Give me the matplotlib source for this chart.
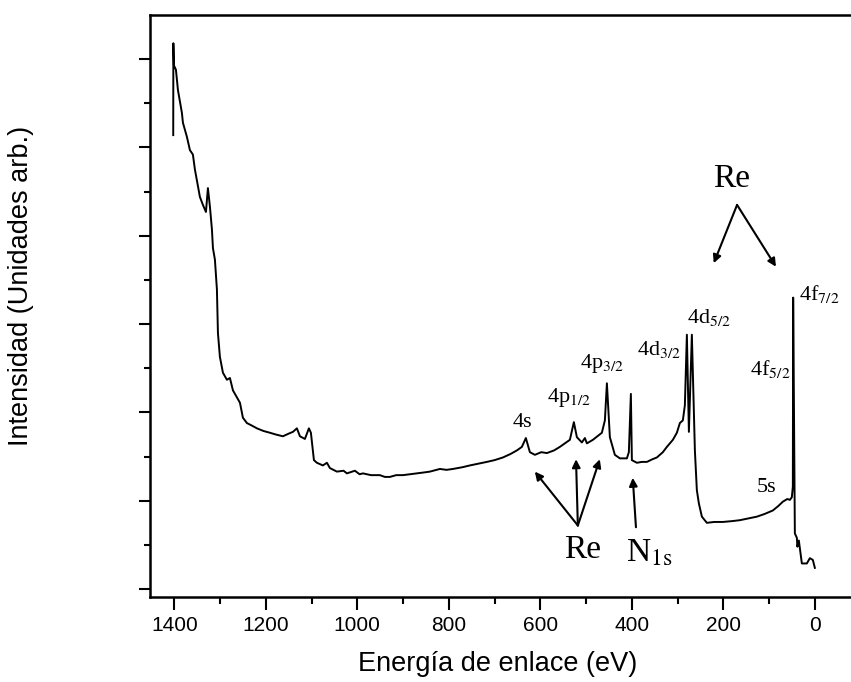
import matplotlib
matplotlib.use('Agg')
import matplotlib.pyplot as plt
from matplotlib.ticker import MultipleLocator, FixedLocator
import numpy as np

plt.rcParams.update({
    'font.family': ['Liberation Sans', 'DejaVu Sans'],
    'mathtext.fontset': 'stix',
})

# XPS survey spectrum (binding energy in eV, intensity arb.)
energy = [
    1402.3, 1402.0, 1400.8, 1396.4, 1392.0, 1383.3, 1381.1, 1372.4, 1365.8, 1359.3,
    1354.9, 1344.0, 1337.4, 1330.8, 1326.5, 1322.1, 1317.7, 1315.5, 1311.2, 1306.8,
    1304.6, 1300.3, 1293.7, 1285.0, 1278.4, 1271.8, 1263.1, 1256.5, 1250.0, 1241.3,
    1230.0, 1219.4, 1205.0, 1191.0, 1178.0, 1162.6, 1150.0, 1140.7, 1132.0, 1125.4,
    1114.5, 1105.8, 1101.4, 1097.0, 1094.8, 1088.3, 1075.2, 1066.4, 1059.9, 1044.6,
    1030.0, 1022.7, 1005.2, 995.0, 987.8, 970.0, 950.6, 940.0, 928.8, 915.0,
    900.3, 885.0, 869.8, 855.0, 841.3, 819.5, 805.0, 791.1, 770.0, 753.9,
    735.0, 716.8, 700.0, 681.8, 665.0, 651.2, 640.3, 631.6, 622.8, 611.9,
    598.0, 585.7, 570.0, 557.3, 535.4, 526.7, 520.1, 509.2, 502.6, 498.2,
    485.1, 465.5, 458.9, 454.5, 448.0, 437.1, 426.1, 410.8, 406.5, 402.1,
    399.9, 389.0, 378.0, 367.1, 355.0, 345.3, 332.2, 323.4, 310.3, 301.6,
    295.0, 288.5, 284.1, 279.7, 275.3, 268.8, 262.2, 257.9, 253.5, 246.9,
    236.0, 220.0, 201.0, 180.0, 163.9, 145.0, 126.7, 110.0, 91.8, 80.0,
    69.9, 60.0, 54.6, 50.3, 48.1, 47.4, 43.7, 39.3, 38.2, 35.0,
    28.4, 17.5, 10.9, 4.4, 0.0,
]
intensity = [
    5.14, 6.18, 5.93, 5.88, 5.65, 5.39, 5.28, 5.12, 4.97, 4.92,
    4.75, 4.44, 4.35, 4.27, 4.54, 4.33, 4.07, 3.86, 3.73, 3.39,
    2.90, 2.63, 2.45, 2.37, 2.39, 2.25, 2.17, 2.11, 1.94, 1.88,
    1.85, 1.82, 1.79, 1.77, 1.75, 1.73, 1.76, 1.78, 1.82, 1.73,
    1.70, 1.82, 1.77, 1.57, 1.46, 1.43, 1.40, 1.43, 1.37, 1.33,
    1.34, 1.31, 1.34, 1.30, 1.31, 1.29, 1.29, 1.27, 1.27, 1.29,
    1.29, 1.30, 1.31, 1.32, 1.33, 1.36, 1.35, 1.36, 1.38, 1.40,
    1.42, 1.44, 1.46, 1.49, 1.53, 1.57, 1.61, 1.71, 1.55, 1.52,
    1.55, 1.54, 1.57, 1.61, 1.69, 1.89, 1.72, 1.66, 1.71, 1.65,
    1.69, 1.77, 1.91, 2.33, 1.72, 1.52, 1.48, 1.48, 1.55, 2.21,
    1.46, 1.43, 1.44, 1.44, 1.47, 1.49, 1.55, 1.61, 1.69, 1.77,
    1.88, 1.91, 2.08, 2.88, 1.78, 2.88, 1.57, 1.12, 0.97, 0.82,
    0.75, 0.76, 0.76, 0.77, 0.78, 0.80, 0.82, 0.85, 0.89, 0.94,
    0.99, 1.02, 1.01, 1.04, 1.16, 3.30, 0.63, 0.58, 0.48, 0.55,
    0.29, 0.29, 0.35, 0.33, 0.24,
]

# peak labels: (text, energy, intensity) at text baseline, left aligned
peak_labels = [
    ('4s', 660, 1.83),
    ('4p$_{\\mathrm{1/2}}$', 586, 2.12),
    ('4p$_{\\mathrm{3/2}}$', 514, 2.50),
    ('4d$_{\\mathrm{3/2}}$', 389, 2.65),
    ('4d$_{\\mathrm{5/2}}$', 280, 3.01),
    ('4f$_{\\mathrm{5/2}}$', 142, 2.42),
    ('5s', 127, 1.10),
    ('4f$_{\\mathrm{7/2}}$', 35, 3.27),
]

# "Re" group arrows: text position, arrow origin and arrow tips
re_top_text = (182, 4.55)
re_top_origin = (170, 4.35)
re_top_tips = [(221, 3.69), (85, 3.65)]
re_bot_text = (507, 0.35)
re_bot_origin = (518, 0.72)
re_bot_tips = [(612, 1.33), (522, 1.47), (470, 1.47)]
n1s_text = (413, 0.31)
n1s_origin = (391, 0.70)
n1s_tip = (398, 1.26)

fig = plt.figure(figsize=(8.51, 6.82), dpi=100)
ax = fig.add_axes([0.1763, 0.1246, 1.0 - 0.1763, 0.978 - 0.1246])

ax.plot(energy, intensity, color='black', linewidth=1.4)

ax.set_xlim(1453, -79)
ax.set_ylim(-0.09, 6.50)

ax.xaxis.set_major_locator(MultipleLocator(200))
ax.xaxis.set_minor_locator(MultipleLocator(100))
ax.yaxis.set_major_locator(FixedLocator(np.arange(0, 7, 1.0)))
ax.yaxis.set_minor_locator(FixedLocator(np.arange(0.5, 6.0, 1.0)))
ax.set_yticklabels([])
ax.tick_params(axis='x', which='major', length=9, width=1.5, labelsize=15, pad=5)
ax.tick_params(axis='x', which='minor', length=5, width=1.5)
ax.tick_params(axis='y', which='major', length=8, width=1.5)
ax.tick_params(axis='y', which='minor', length=4, width=1.5)

ax.spines['right'].set_visible(False)
for side in ('left', 'bottom', 'top'):
    ax.spines[side].set_linewidth(1.8)

ax.set_xlabel('Energía de enlace (eV)', fontsize=19.5)
ax.set_ylabel('Intensidad (Unidades arb.)', fontsize=19.5)
ax.xaxis.set_label_coords(0.496, -0.093)
ax.yaxis.set_label_coords(-0.165, 0.535)

serif = ['Liberation Serif', 'DejaVu Serif']
for label, x, y in peak_labels:
    ax.text(x, y, label, fontsize=16, family=serif, ha='left', va='baseline')

arrow_kw = dict(arrowstyle='-|>', color='black', lw=1.5, mutation_scale=12,
                shrinkA=0, shrinkB=0)

ax.text(*re_top_text, 'Re', fontsize=24, family=serif, ha='center', va='baseline')
for tip in re_top_tips:
    ax.annotate('', xy=tip, xytext=re_top_origin, arrowprops=arrow_kw)

ax.text(*re_bot_text, 'Re', fontsize=24, family=serif, ha='center', va='baseline')
for tip in re_bot_tips:
    ax.annotate('', xy=tip, xytext=re_bot_origin, arrowprops=arrow_kw)

ax.text(*n1s_text, 'N$_{\\mathrm{1s}}$', fontsize=24, family=serif, ha='left', va='baseline')
ax.annotate('', xy=n1s_tip, xytext=n1s_origin, arrowprops=arrow_kw)

fig.savefig('out.png', dpi=100)
